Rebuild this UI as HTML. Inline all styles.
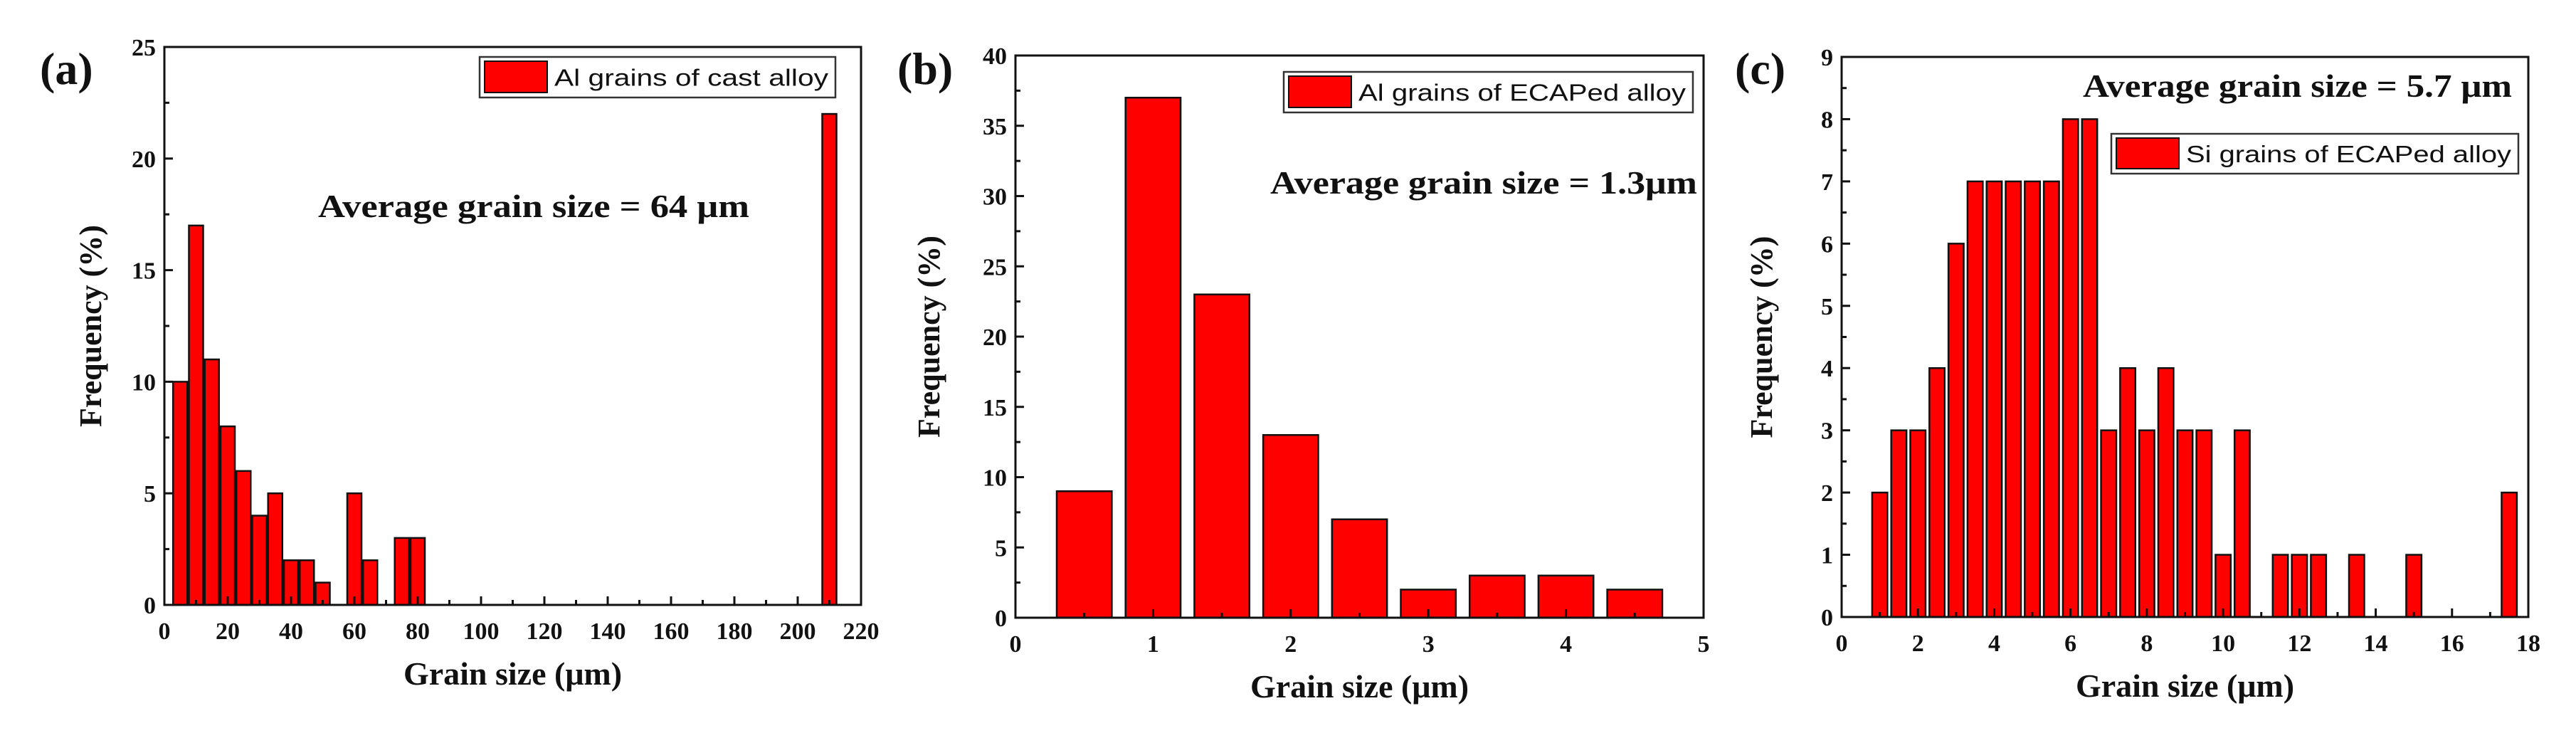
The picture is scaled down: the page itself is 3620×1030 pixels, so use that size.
<!DOCTYPE html>
<html><head><meta charset="utf-8"><style>
html,body{margin:0;padding:0;background:#fff;}
svg{display:block;}
text{font-family:"Liberation Serif",serif;font-weight:bold;fill:#111;}
.leg{font-family:"Liberation Sans",sans-serif;font-weight:normal;}
</style></head><body>
<svg id="fig" width="3620" height="1030" xmlns="http://www.w3.org/2000/svg">
<rect width="3620" height="1030" fill="#fff"/>
</svg>
<script>
// Panel (a) data
const aCenters = [5,10,15,20,25,30,35,40,45,50,60,65,75,80,210];
const aValues  = [10,17,11,8,6,4,5,2,2,1,5,2,3,3,22];
const aXTicks = [0,20,40,60,80,100,120,140,160,180,200,220];
const aYTicks = [0,5,10,15,20,25];
// Panel (b) data
const bCenters = [0.5,1,1.5,2,2.5,3,3.5,4,4.5];
const bValues  = [9,37,23,13,7,2,3,3,2];
const bXTicks = [0,1,2,3,4,5];
const bYTicks = [0,5,10,15,20,25,30,35,40];
// Panel (c) data
const cCenters = [1,1.5,2,2.5,3,3.5,4,4.5,5,5.5,6,6.5,7,7.5,8,8.5,9,9.5,10,10.5,11.5,12,12.5,13.5,15,17.5];
const cValues  = [2,3,3,4,6,7,7,7,7,7,8,8,3,4,3,4,3,3,1,3,1,1,1,1,1,2];
const cXTicks = [0,2,4,6,8,10,12,14,16,18];
const cYTicks = [0,1,2,3,4,5,6,7,8,9];

const NS="http://www.w3.org/2000/svg";
const svg=document.getElementById('fig');
function mk(tag,attrs,parent){const e=document.createElementNS(NS,tag);for(const k in attrs)e.setAttribute(k,attrs[k]);(parent||svg).appendChild(e);return e;}

function panel(p){
  const g=mk('g',{});
  
  
  const xs=v=>p.L+(v-p.xmin)/(p.xmax-p.xmin)*(p.R-p.L);
  const ys=v=>p.B-(v-p.ymin)/(p.ymax-p.ymin)*(p.B-p.T);
  // bars
  p.centers.forEach((c,i)=>{
    const x0=xs(c-p.bw/2), x1=xs(c+p.bw/2), y0=ys(p.values[i]);
    const r=mk('rect',{x:x0,y:y0,width:x1-x0,height:p.B-y0,fill:'#ff0000',stroke:'#111','stroke-width':2.5},g);
    
    
  });
  // frame
  const f=mk('rect',{x:p.L,y:p.T,width:p.R-p.L,height:p.B-p.T,fill:'none',stroke:'#111','stroke-width':3},g);
  
  
  // y ticks
  p.yTicks.forEach((t,i)=>{
    const y=ys(t);
    mk('line',{x1:p.L,x2:p.L+12,y1:y,y2:y,stroke:'#111','stroke-width':3},g);
    if(i<p.yTicks.length-1){const ym=ys(t+(p.yTicks[1]-p.yTicks[0])/2);mk('line',{x1:p.L,x2:p.L+7,y1:ym,y2:ym,stroke:'#111','stroke-width':3},g);}
    const tx=mk('text',{x:p.L-12,y:y+12,'text-anchor':'end','font-size':34},g);
    tx.textContent=t;
    
    
  });
  // x ticks
  p.xTicks.forEach((t,i)=>{
    const x=xs(t);
    mk('line',{x1:x,x2:x,y1:p.B,y2:p.B-12,stroke:'#111','stroke-width':3},g);
    if(i<p.xTicks.length-1){const xm=xs(t+(p.xTicks[1]-p.xTicks[0])/2);mk('line',{x1:xm,x2:xm,y1:p.B,y2:p.B-7,stroke:'#111','stroke-width':3},g);}
    const tx=mk('text',{x:x,y:p.B+48,'text-anchor':'middle','font-size':34},g);
    tx.textContent=t;
    
    
  });
  // axis titles
  const xt=mk('text',{x:(p.L+p.R)/2,y:p.B+112,'text-anchor':'middle','font-size':46},g);
  xt.textContent='Grain size (\u03bcm)';
  
  
  const yt=mk('text',{x:0,y:0,'text-anchor':'middle','font-size':44,transform:`translate(${p.ytx},${(p.T+p.B)/2}) rotate(-90)`},g);
  yt.textContent='Frequency (%)';
  
  
  // panel label
  const pl=mk('text',{x:p.lbx,y:118,'font-size':64},g);
  pl.textContent=p.label;
  
  
  // legend
  const lg=mk('g',{},g);
  
  
  mk('rect',{x:p.lg[0],y:p.lg[1],width:p.lg[2],height:p.lg[3],fill:'#fff',stroke:'#333','stroke-width':2.5},lg);
  mk('rect',{x:p.lg[0]+7,y:p.lg[1]+6,width:88,height:p.lg[3]-13,fill:'#ff0000',stroke:'#111','stroke-width':2},lg);
  const lt=mk('text',{x:p.lg[0]+105,y:p.lg[1]+p.lg[3]/2+12,'font-size':33,'class':'leg',textLength:p.lg[2]-115,lengthAdjust:'spacingAndGlyphs'},lg);
  lt.textContent=p.legText;
  // annotation
  const at=mk('text',{x:p.av[0],y:p.av[1],'font-size':46,textLength:p.av[2],lengthAdjust:'spacingAndGlyphs'},g);
  at.textContent=p.avText;
  
  
}

panel({name:'panel-a',label:'(a)',lbx:56,L:231,R:1210,T:66,B:850,xmin:0,xmax:220,ymin:0,ymax:25,bw:4.5,
  centers:aCenters,values:aValues,xTicks:aXTicks,yTicks:aYTicks,ytx:142,
  lg:[674,80,500,57],legText:'Al grains of cast alloy',av:[447,305,606],avText:'Average grain size = 64 \u03bcm'});
panel({name:'panel-b',label:'(b)',lbx:1261,L:1427,R:2394,T:78,B:868,xmin:0,xmax:5,ymin:0,ymax:40,bw:0.4,
  centers:bCenters,values:bValues,xTicks:bXTicks,yTicks:bYTicks,ytx:1320,
  lg:[1804,101,575,57],legText:'Al grains of ECAPed alloy',av:[1785,272,600],avText:'Average grain size = 1.3\u03bcm'});
panel({name:'panel-c',label:'(c)',lbx:2438,L:2588,R:3553,T:80,B:867,xmin:0,xmax:18,ymin:0,ymax:9,bw:0.4,
  centers:cCenters,values:cValues,xTicks:cXTicks,yTicks:cYTicks,ytx:2490,
  lg:[2967,188,572,56],legText:'Si grains of ECAPed alloy',av:[2927,136,603],avText:'Average grain size = 5.7 \u03bcm'});
</script>
</body></html>
